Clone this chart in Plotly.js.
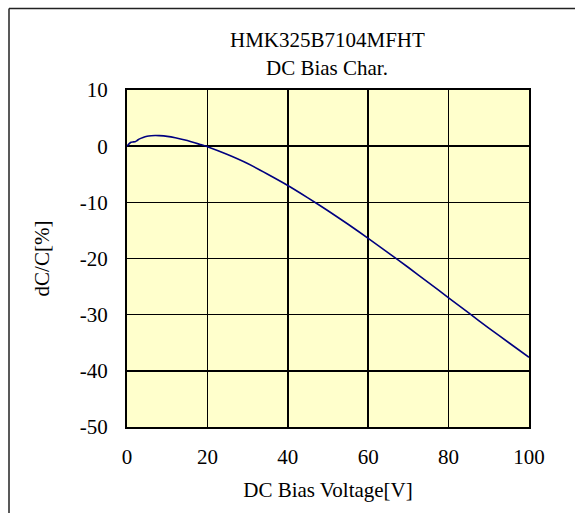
<!DOCTYPE html>
<html>
<head>
<meta charset="utf-8">
<script src="https://cdn.plot.ly/plotly-3.0.1.min.js"></script>
<style>html,body{margin:0;padding:0;background:#fff;}#chart{width:575px;height:513px;}</style>
</head>
<body>
<div id="chart"></div>
<script>
const voltage = [0, 0.5, 1, 1.5, 2, 2.5, 3, 4, 5, 6, 7, 8, 10, 12, 15, 18, 20, 25, 30, 35, 40, 45, 50, 55, 60, 65, 70, 75, 80, 85, 90, 95, 100];
const dCC = [0, 0.4, 0.7, 0.75, 0.8, 1.0, 1.25, 1.55, 1.75, 1.85, 1.9, 1.88, 1.75, 1.5, 1.0, 0.35, -0.1, -1.5, -3.1, -5.0, -7.0, -9.2, -11.5, -13.9, -16.4, -19.0, -21.6, -24.3, -27.0, -29.7, -32.4, -35.0, -37.6];
const xTickVals = [0, 20, 40, 60, 80, 100];
const yTickVals = [10, 0, -10, -20, -30, -40, -50];
const yTickText = ["10", "0", "-10", "-20", "-30", "-40", "-50"];
const titleLines = ["HMK325B7104MFHT", "DC Bias Char."];
const xTitle = "DC Bias Voltage[V]";
const yTitle = "dC/C[%]";

const W = 575, H = 513, L = 127, R = 46, T = 90, B = 86;
const pw = W - L - R, ph = H - T - B;
const px = v => (v - L) / pw;
const py = v => (H - B - v) / ph;

const fam = "Liberation Serif, Times New Roman, serif";
const font = {family: fam, size: 21, color: "#000"};

Plotly.newPlot("chart", [{
  x: voltage, y: dCC, type: "scatter", mode: "lines",
  line: {color: "#000080", width: 1.6, shape: "spline", smoothing: 0.5},
  hoverinfo: "skip"
}], {
  width: W, height: H,
  margin: {l: L, r: R, t: T, b: B, pad: 0},
  paper_bgcolor: "#fff",
  plot_bgcolor: "#FFFFCC",
  font: font,
  showlegend: false,
  xaxis: {
    range: [0, 100], tickmode: "array", tickvals: xTickVals, ticktext: xTickVals.map(String),
    showgrid: true, gridcolor: "#000", gridwidth: 1.5,
    zeroline: false, showline: true, linecolor: "#000", linewidth: 2, mirror: true,
    ticks: "", ticklen: 0, tickfont: font, fixedrange: true, ticklabelstandoff: 10,
    title: {text: xTitle, font: font, standoff: 14}
  },
  yaxis: {
    range: [-50, 10], tickmode: "array", tickvals: yTickVals, ticktext: yTickText,
    showgrid: true, gridcolor: "#000", gridwidth: 1.5,
    zeroline: false, showline: true, linecolor: "#000", linewidth: 2, mirror: true,
    ticks: "", ticklen: 0, tickfont: font, fixedrange: true, ticklabelstandoff: 13,
    title: {text: yTitle, font: font, standoff: 24}
  },
  annotations: [
    {text: titleLines[0], xref: "paper", yref: "paper", x: px(327), y: py(40), xanchor: "center", yanchor: "middle", showarrow: false, font: font},
    {text: titleLines[1], xref: "paper", yref: "paper", x: px(327), y: py(68), xanchor: "center", yanchor: "middle", showarrow: false, font: font}
  ],
  shapes: [
    {type: "line", xref: "paper", yref: "paper", x0: px(9), x1: px(600), y0: py(8.5), y1: py(8.5), line: {color: "#222", width: 1.5}},
    {type: "line", xref: "paper", yref: "paper", x0: px(9), x1: px(9), y0: py(8.5), y1: py(560), line: {color: "#222", width: 1.5}}
  ]
}, {displayModeBar: false, staticPlot: true});
</script>
</body>
</html>
